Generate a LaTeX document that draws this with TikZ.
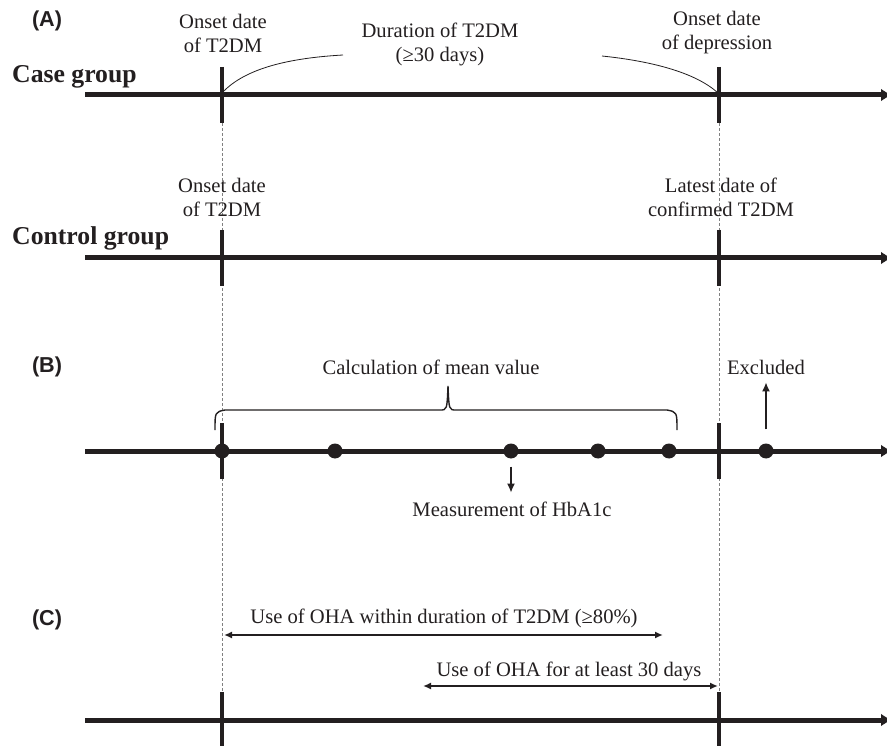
\documentclass[tikz,border=0pt]{standalone}
\usepackage{fontspec}
\setmainfont{Liberation Serif}
\newfontfamily\tagfont{Liberation Sans}
\usetikzlibrary{arrows.meta,positioning}
\definecolor{ink}{HTML}{231F20}

\begin{document}
\begin{tikzpicture}[x=1pt ,y=-1pt ,ink ,
lbl/.style ={ font=\fontsize{20.6}{24}\selectfont ,align=center ,inner sep=0pt},
grp/.style ={ font=\fontsize{25.7}{30}\selectfont\bfseries ,inner sep=0pt ,anchor=base west},
tag/.style ={ font=\tagfont\fontsize{21.6}{26}\selectfont\bfseries ,inner sep=0pt},
axis/.style ={ line width=5pt ,-{Latex[length=11pt,width=13pt]}},
tick/.style ={ line width=4pt},
guide/.style ={ dash pattern=on 3pt off 2pt ,line width=0.6pt ,gray},
dot/.style ={ circle ,fill=ink ,inner sep=0pt ,minimum size=15pt},
span/.style ={ line width=1.6pt ,{Latex[length=8pt,width=7pt]}-{Latex[length=8pt,width=7pt]}},
pointer/.style ={ line width=1.8pt ,-{Latex[length=9pt,width=8pt]}}]
\useasboundingbox[fill=white] (0,0) rectangle (887,746);

% dashed guides through the two key dates
\coordinate (GuideStartTop) at (222,123);
\coordinate (GuideStartBot) at (222,693);
\coordinate (GuideEndTop) at (719,123);
\coordinate (GuideEndBot) at (719,693);
\draw[guide] (GuideStartTop) -- (GuideStartBot);
\draw[guide] (GuideEndTop) -- (GuideEndBot);

% time axes with their ticks
\foreach \n/\y in {Case/95, Control/258, HbA/451, Oha/720}{
  \coordinate (\n Begin) at (85,\y);
  \coordinate (\n Finish) at (892,\y);
  \draw[axis] (\n Begin) -- (\n Finish);
  \draw[tick] (222,\y-28) -- (222,\y+28);
  \draw[tick] (719,\y-28) -- (719,\y+28);
}

% (A)
\node[tag] (TagA) at (47,21) {(A)};
\node[grp] (CaseGroup) at (12,83) {Case group};
\node[lbl] (CaseOnset) at (223,33) {Onset date\\of T2DM};
\node[lbl] (CaseDepr) at (717,33) {Onset date\\of depression};
\node[lbl] (Duration) at (440,44) {Duration of T2DM\\(\char"2265 30 days)};
\coordinate (CaseStart) at (222,93);
\coordinate (CaseStop) at (718,93);
\coordinate (DurLeft) at (343,55);
\coordinate (DurRight) at (602,56);
\draw[line width=0.8pt] (CaseStart) .. controls (245,68) and (290,58) .. (DurLeft);
\draw[line width=0.8pt] (DurRight) .. controls (650,61) and (695,72) .. (CaseStop);

\node[grp] (ControlGroup) at (12,245) {Control group};
\node[lbl] (CtrlOnset) at (222,197) {Onset date\\of T2DM};
\node[lbl] (CtrlLatest) at (721,197) {Latest date of\\confirmed T2DM};

% (B)
\node[tag] (TagB) at (47,367) {(B)};
\foreach \i/\x in {1/222,2/335,3/511,4/598,5/669,6/766}
  \node[dot] (M\i) at (\x,451) {};
\node[lbl] (MeanCalc) at (431,367) {Calculation of mean value};
\coordinate (BraceLeft) at (215,430);
\coordinate (BraceTip) at (448,386);
\coordinate (BraceRight) at (677,430);
\draw[line width=1.4pt] (BraceLeft) .. controls (215,412) .. (225,410) -- (440,410)
  .. controls (447,410) .. (BraceTip) .. controls (449,410) .. (456,410) -- (667,410)
  .. controls (677,412) .. (BraceRight);
\node[lbl] (Measure) at (512,509) {Measurement of HbA1c};
\draw[pointer] (M3.south) ++(0,8) -- ++(0,26);
\node[lbl] (Excluded) at (766,367) {Excluded};
\draw[pointer] (M6.north) ++(0,-14) -- ++(0,-47);

% (C)
\node[tag] (TagC) at (47,620) {(C)};
\node[lbl] (OhaWithin) at (444,618) {Use of OHA within duration of T2DM (\char"2265 80\%)};
\coordinate (WithinL) at (224,635);
\coordinate (WithinR) at (663,635);
\draw[span] (WithinL) -- (WithinR);
\node[lbl] (OhaLeast) at (569,671) {Use of OHA for at least 30 days};
\coordinate (LeastL) at (423,686);
\coordinate (LeastR) at (718,686);
\draw[span] (LeastL) -- (LeastR);
\end{tikzpicture}
\end{document}
